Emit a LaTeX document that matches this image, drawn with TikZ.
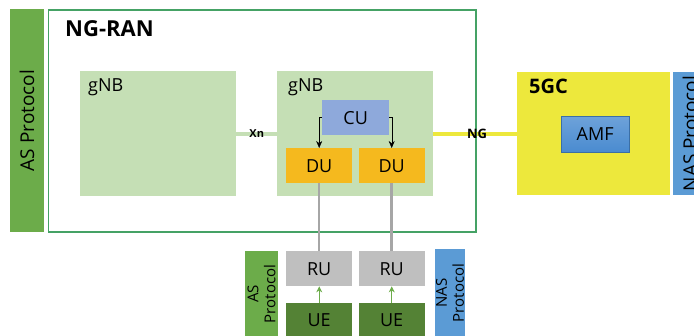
\documentclass[tikz,border=0pt]{standalone}
\usepackage{fontspec}
\setmainfont{Open Sans}
\usetikzlibrary{arrows.meta, positioning}
\definecolor{asgreen}{HTML}{6CAC4A}
\definecolor{ranframe}{HTML}{45A265}
\definecolor{gnbfill}{HTML}{C5DFB5}
\definecolor{cufill}{HTML}{8EA9DB}
\definecolor{dufill}{HTML}{F5B91E}
\definecolor{coreyellow}{HTML}{EDE83C}
\definecolor{amfblue}{HTML}{4A8BD0}
\definecolor{nasblue}{HTML}{5B9BD5}
\definecolor{rufill}{HTML}{BFBFBF}
\definecolor{uefill}{HTML}{548235}
\definecolor{linkgrey}{HTML}{A6A6A6}

\begin{document}
\begin{tikzpicture}[x=1pt, y=-1pt,
                    box/.style={rectangle, inner sep=0pt, anchor=north west, font=\fontsize{18}{18}\selectfont},
                    unit/.style={box, minimum width=66pt, minimum height=35pt},
                    title/.style={anchor=west, inner sep=0pt, font=\fontsize{#1}{#1}\selectfont\bfseries},
                    tag/.style={anchor=west, inner sep=0pt, font=\fontsize{18}{18}\selectfont},
                    protobar/.style={rectangle, inner sep=0pt, rotate=90, align=center},
                    arrow/.style={-{Stealth[length=7pt, width=6pt]}, thin},
                    uplink/.style={-{Stealth[length=6pt, width=6pt]}, thick, asgreen}
                ]
                \useasboundingbox (0,0) rectangle (694,336);
                % NG-RAN side
                \node[protobar, fill=asgreen, minimum width=223pt, minimum height=34pt,
                      font=\fontsize{19}{19}\selectfont] (asbar) at (27,120.5) {AS Protocol};
                \node[box, draw=ranframe, line width=1.2pt, minimum width=427pt, minimum height=222pt] (ngran) at (48,9.5) {};
                \node[title=22] (ngrantitle) at (65,29) {NG-RAN};
                \node[box, fill=gnbfill, minimum width=156pt, minimum height=125pt] (gnbA) at (80,71) {};
                \node[box, fill=gnbfill, minimum width=156pt, minimum height=125pt] (gnbB) at (277,71) {};
                \node[tag] (gnbAlabel) at (88,87) {gNB};
                \node[tag] (gnbBlabel) at (288,87) {gNB};
                \node[box, fill=cufill, minimum width=67pt, minimum height=35pt] (cu) at (322,100) {CU};
                \node[unit, fill=dufill] (duA) at (286,148) {DU};
                \node[unit, fill=dufill] (duB) at (358.5,148) {DU};
                \draw[arrow] (cu.west) -| (duA.north);
                \draw[arrow] (cu.east) -| (duB.north);
                \draw[gnbfill, line width=4pt] (gnbA.east) -- node[font=\fontsize{11}{11}\selectfont\bfseries, text=black] (xn) {Xn} (gnbB.west);
                % 5GC side
                \node[box, fill=coreyellow, minimum width=153pt, minimum height=123pt] (core) at (517,72) {};
                \node[title=20] (coretitle) at (529,86) {5GC};
                \node[box, draw=amfblue!80!black, top color=amfblue!80, bottom color=amfblue,
                      minimum width=68pt, minimum height=36pt] (amf) at (561,116) {AMF};
                \node[protobar, fill=nasblue, minimum width=123pt, minimum height=34pt,
                      font=\fontsize{19}{19}\selectfont] (nasbar) at (690,133.5) {NAS Protocol};
                \draw[coreyellow, line width=4pt] (gnbB.east) -- (core.west);
                \draw[ranframe, line width=1.2pt] (ngran.north east) -- (ngran.south east);
                \node[font=\fontsize{13}{13}\selectfont\bfseries] (ng) at (477,134) {NG};
                % radio units and UEs
                \node[unit, fill=rufill] (ruA) at (286,251) {RU};
                \node[unit, fill=rufill] (ruB) at (358.5,251) {RU};
                \node[unit, fill=uefill, minimum height=34pt] (ueA) at (286,303) {UE};
                \node[unit, fill=uefill, minimum height=34pt] (ueB) at (358.5,303) {UE};
                \draw[linkgrey, line width=2.5pt] (duA.south) -- (ruA.north);
                \draw[linkgrey, line width=2.5pt] (duB.south) -- (ruB.north);
                \draw[uplink] (ueA.north) -- (ruA.south);
                \draw[uplink] (ueB.north) -- (ruB.south);
                \node[protobar, fill=asgreen, minimum width=86pt, minimum height=33pt,
                      font=\fontsize{15}{17}\selectfont] (asue) at (261.5,294) {AS\\Protocol};
                \node[protobar, fill=nasblue, minimum width=88pt, minimum height=30pt,
                      font=\fontsize{15}{17}\selectfont] (nasue) at (450,293) {NAS\\Protocol};
                \end{tikzpicture}
\end{document}
